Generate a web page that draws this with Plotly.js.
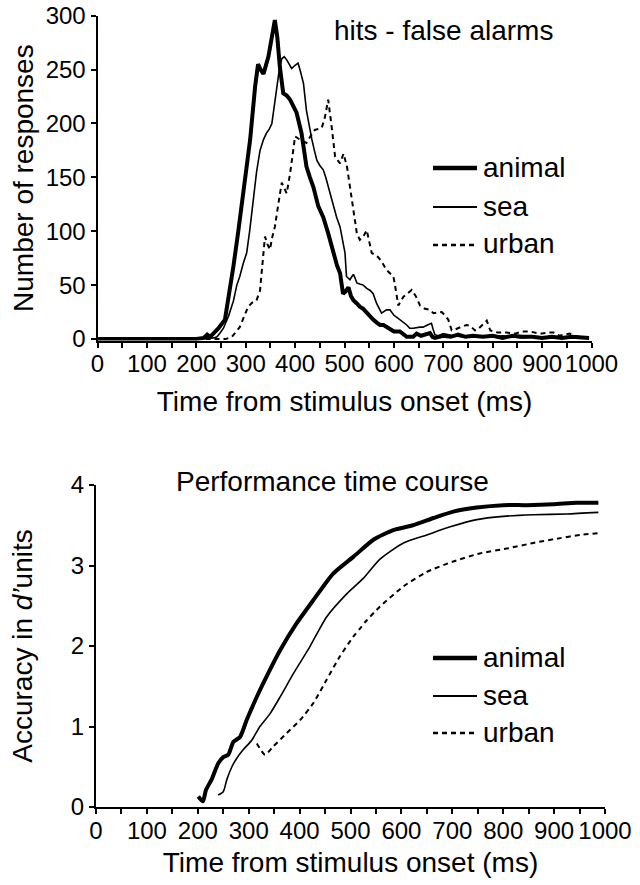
<!DOCTYPE html>
<html>
<head>
<meta charset="utf-8">
<script src="https://cdn.plot.ly/plotly-3.0.1.min.js"></script>
<style>html,body{margin:0;padding:0;background:#fff;}#chart{width:640px;height:885px;}</style>
</head>
<body>
<div id="chart"></div>
<script>
// ---------- Data: top panel (hits - false alarms), number of responses ----------
const hitsTimeAnimal = [0,100,200,215,222,228,235,245,258,266,275,285,295,309,319,325,330,336,346,352,359,364,369,376,383,390,403,413,423,430,437,447,457,467,477,485,491,497,502,508,513,518,525,531,538,545,552,558,566,572,579,590,600,612,620,626,639,646,655,665,673,678,683,700,715,730,745,760,780,800,820,840,860,880,900,920,940,960,980,995];
const hitsAnimal     = [0,0,0,1,4,2,5,10,18,40,67,100,135,185,234,255,250,246,262,280,296,280,253,228,226,222,210,191,160,150,141,123,113,98,80,68,61,42,44,48,40,36,33,30,28,24,20,18,15,13,13,10,7,7,4,2,2,5,3,4,5.5,2,1,3,2,4,2,3,2,3,1,3,2,2,1,2,1,2,1,1];

const hitsTimeSea = [0,200,235,242,248,255,265,275,282,288,295,302,308,315,322,329,336,342,348,353,358,363,368,373,378,383,388,393,400,406,411,417,423,428,434,439,444,450,457,462,467,472,477,484,491,496,501,504,508,511,515,518,521,525,531,538,545,552,558,565,575,585,592,600,606,612,620,626,632,639,653,659,668,676,680,683,690,700,720,740,760,780,800,820,840,860,880,900,920,940,960,980,995];
const hitsSea     = [0,0,1,2,5.5,10,21,35,50,58,70,80,100,129,155,175,185,191,195,200,218,237,250,260,262,259,255,251,254,256,248,237,212,198,185,175,166,161,157,150,141,132,123,113,104,92,80,58,56,55,58,60,57,52,51,50,47,45,42,33,24,27,27,22,20,18,15,13,10,10,11,11,13,14.5,8,4,3,5,3,2,3,2,2,3,2,1,2,2,1,2,1,1,1];

const hitsTimeUrban = [0,200,260,272,280,288,296,305,314,322,329,334,339,344,349,354,359,366,373,378,383,390,395,400,410,423,431,440,447,454,460,467,474,481,491,498,505,510,515,520,525,531,538,545,550,555,568,575,585,592,599,604,609,619,628,636,644,653,663,673,680,690,697,705,710,717,725,735,747,755,764,770,780,788,795,810,828,845,860,875,889,900,912,923,935,945,956,965,975,983,995];
const hitsUrban     = [0,0,0,2,6,11,20,30,34,36,45,70,95,88,83,95,104,125,145,140,135,154,172,188,185,182,188,194,195,196,205,222,197,169,163,172,160,145,129,112,98,92,95,101,90,80,76,72,64,61,58,45,31,39,42,45.5,40,31,28,27,24,25,25,21,18,8,9,11,13,12,8,9,14,17,8,6,6,5,7,7,5.5,5,6,6,3,4,5,3,2,2,1];

// ---------- Data: bottom panel (performance time course), d' ----------
const dTimeAnimal = [201,210,216,227,240,250,260,270,283,296,316,335,362,394,427,466,506,545,584,623,663,702,748,800,846,898,944,987];
const dAnimal     = [0.13,0.07,0.21,0.34,0.54,0.62,0.65,0.81,0.87,1.08,1.37,1.62,1.95,2.28,2.57,2.90,3.11,3.32,3.44,3.50,3.59,3.67,3.72,3.75,3.75,3.76,3.78,3.78];

const dTimeSea = [240,250,257,267,276,289,306,322,342,362,388,420,453,493,525,558,604,650,696,748,800,859,925,987];
const dSea     = [0.15,0.19,0.34,0.50,0.60,0.71,0.83,1.00,1.16,1.37,1.66,1.99,2.36,2.65,2.84,3.08,3.28,3.38,3.48,3.57,3.61,3.63,3.64,3.66];

const dTimeUrban = [316,332,348,375,401,427,453,479,506,519,532,558,604,650,702,754,807,859,912,951,987];
const dUrban     = [0.79,0.65,0.75,0.92,1.08,1.29,1.58,1.87,2.12,2.22,2.32,2.49,2.74,2.92,3.05,3.15,3.21,3.28,3.34,3.38,3.40];

const seriesNames = ['animal','sea','urban'];
const xTickVals = [0,100,200,300,400,500,600,700,800,900,1000];
const topYTicks = [0,50,100,150,200,250,300];
const botYTicks = [0,1,2,3,4];

// ---------- Layout helpers (pixel -> paper) ----------
const W = 640, H = 885;
const px = x => x / W;
const py = y => 1 - y / H;
const FONT = 'Arial, "Liberation Sans", sans-serif';

const styles = [
  {color:'black', width:4, dash:'solid'},
  {color:'black', width:1.6, dash:'solid'},
  {color:'black', width:2, dash:'5px,4px'}
];

const traces = [
  {x:hitsTimeAnimal, y:hitsAnimal, xaxis:'x', yaxis:'y', sm:false},
  {x:hitsTimeSea, y:hitsSea, xaxis:'x', yaxis:'y', sm:false},
  {x:hitsTimeUrban, y:hitsUrban, xaxis:'x', yaxis:'y', sm:false},
  {x:dTimeAnimal, y:dAnimal, xaxis:'x2', yaxis:'y2', sm:true},
  {x:dTimeSea, y:dSea, xaxis:'x2', yaxis:'y2', sm:true},
  {x:dTimeUrban, y:dUrban, xaxis:'x2', yaxis:'y2', sm:true}
].map((t, i) => {
  const sm = t.sm; delete t.sm;
  return Object.assign(t, {
    type:'scatter', mode:'lines', name:seriesNames[i % 3], showlegend:false,
    line:Object.assign(sm ? {shape:'spline', smoothing:0.6} : {shape:'linear'}, styles[i % 3]), hoverinfo:'skip'
  });
});

const axisCommon = {
  showgrid:false, zeroline:false, showline:true, linecolor:'black', linewidth:2,
  ticks:'outside', ticklen:5, tickwidth:2, tickcolor:'black',
  tickfont:{family:FONT, size:24, color:'black'}, fixedrange:true
};

const xCommon = Object.assign({}, axisCommon, {
  range:[0,1000], tickmode:'array', tickvals:xTickVals, ticktext:xTickVals.map(String),
  ticklabelstandoff:-4,
  minor:{dtick:50, tick0:0, ticks:'outside', ticklen:5, tickwidth:2, tickcolor:'black'}
});

const layout = {
  width:W, height:H, margin:{l:0,r:0,t:0,b:0},
  paper_bgcolor:'white', plot_bgcolor:'white',
  font:{family:FONT, color:'black'},
  showlegend:false,
  xaxis:Object.assign({}, xCommon, {domain:[px(97.5), px(591.5)], anchor:'y',
    title:{text:'Time from stimulus onset (ms)', font:{family:FONT, size:28, color:'black'}, standoff:15}}),
  yaxis:Object.assign({}, axisCommon, {domain:[py(340.6), py(15.7)], anchor:'x', range:[-1.5,300],
    tickmode:'array', tickvals:topYTicks, ticktext:topYTicks.map(String),
    title:{text:'Number of responses', font:{family:FONT, size:28, color:'black'}, standoff:4}}),
  xaxis2:Object.assign({}, xCommon, {domain:[px(96), px(605)], anchor:'y2',
    title:{text:'Time from stimulus onset (ms)', font:{family:FONT, size:28, color:'black'}, standoff:10}}),
  yaxis2:Object.assign({}, axisCommon, {domain:[py(807), py(485)], anchor:'x2', range:[0,4],
    tickmode:'array', tickvals:botYTicks, ticktext:botYTicks.map(String),
    title:{text:'Accuracy in <i>d’</i>units', font:{family:FONT, size:28, color:'black'}, standoff:30}}),
  annotations:[],
  shapes:[]
};

function addLegend(yPix) {
  seriesNames.forEach((name, i) => {
    const y = yPix[i];
    layout.shapes.push({type:'line', xref:'paper', yref:'paper', x0:px(433), x1:px(477), y0:py(y), y1:py(y),
      line:{color:'black', width:styles[i].width + (i===0?0.5:0.4), dash:styles[i].dash}});
    layout.annotations.push({xref:'paper', yref:'paper', x:px(481), y:py(y - 1), xanchor:'left', yanchor:'middle',
      text:name, showarrow:false, font:{family:FONT, size:28, color:'black'}});
  });
}
addLegend([168, 207, 245]);
addLegend([658, 696, 733]);

layout.annotations.push({xref:'paper', yref:'paper', x:px(332), y:py(30), xanchor:'left', yanchor:'middle',
  text:'hits - false alarms', showarrow:false, font:{family:FONT, size:28, color:'black'}});
layout.annotations.push({xref:'paper', yref:'paper', x:px(174), y:py(481), xanchor:'left', yanchor:'middle',
  text:'Performance time course', showarrow:false, font:{family:FONT, size:28, color:'black'}});

Plotly.newPlot('chart', traces, layout, {staticPlot:true, displayModeBar:false});
</script>
</body>
</html>
